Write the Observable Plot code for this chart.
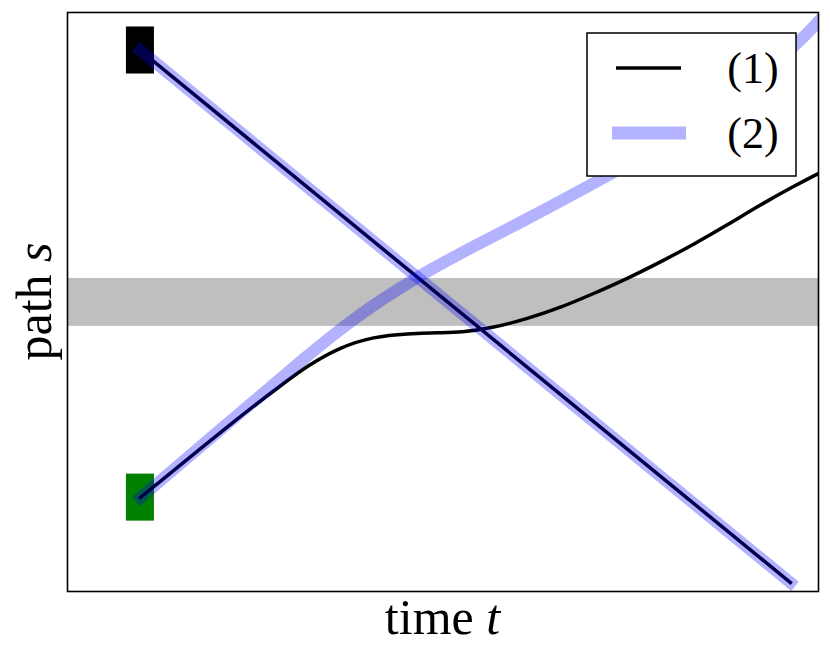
<!DOCTYPE html>
<html><head><meta charset="utf-8">
<script src="https://cdn.jsdelivr.net/npm/d3@7"></script>
<script src="https://cdn.jsdelivr.net/npm/@observablehq/plot@0.6"></script>
<style>body{margin:0;background:#fff}</style>
</head><body><div id="chart"></div>
<script>
// ---- data (arbitrary units, no ticks in the original) ----
const seriesNames = ["(1)", "(2)"];
const xLabel = ["time ", "t"];
const yLabel = ["path ", "s"];

// curve of series (1)
const curve1T = [0, 1.385, 1.980, 2.313, 2.770, 3.227, 3.698, 4.155, 4.432, 4.889, 5.359, 5.816, 6.273, 6.744, 7.201, 7.658, 8.129, 8.586, 9.043, 9.389];
const curve1S = [0, 1.83, 2.55, 2.95, 3.37, 3.60, 3.67, 3.69, 3.69, 3.80, 4.00, 4.25, 4.56, 4.90, 5.27, 5.66, 6.10, 6.55, 6.96, 7.25];
// curve of series (2)
const curve2T = [0, 1.385, 2.313, 2.770, 3.227, 3.698, 4.155, 4.612, 5.082, 6.273, 7.063, 7.755, 8.448, 9.098, 9.555];
const curve2S = [0, 1.90, 3.18, 3.77, 4.31, 4.80, 5.22, 5.62, 6.00, 7.02, 7.74, 8.48, 9.28, 10.13, 10.94];
// straight path shared by both series
const diagT = [0, 9];
const diagS = [10, -1.9];
// horizontal band
const bandS = [3.83, 4.90];
// start / end markers
const markerT = [0, 0];
const markerS = [10, 0];
const markerColor = ["black", "green"];

const xDomain = [-1.01, 9.39];
const yDomain = [-2.1, 10.85];

// ---- build tables ----
const zip = (ts, ss) => ts.map((t, i) => ({t, s: ss[i]}));
const c1 = zip(curve1T, curve1S);
const c2 = zip(curve2T, curve2S);
const diag = zip(diagT, diagS);
const markers = markerT.map((t, i) => ({t, s: markerS[i], c: markerColor[i]}));
const band = [{y1: bandS[0], y2: bandS[1]}];
const mHalfW = 0.194, mHalfH = 0.526;

const W = 830, H = 660, mL = 67, mR = 12, mT = 12, mB = 69;

const chart = Plot.plot({
  width: W, height: H,
  marginLeft: mL, marginRight: mR, marginTop: mT, marginBottom: mB,
  style: {background: "white"},
  x: {domain: xDomain, axis: null},
  y: {domain: yDomain, axis: null},
  marks: [
    Plot.rect(band, {x1: () => xDomain[0], x2: () => xDomain[1], y1: "y1", y2: "y2", fill: "gray", fillOpacity: 0.5}),
    Plot.rect(markers, {x1: d => d.t - mHalfW, x2: d => d.t + mHalfW, y1: d => d.s - mHalfH, y2: d => d.s + mHalfH, fill: "c"}),
    Plot.line(c1, {x: "t", y: "s", stroke: "black", strokeWidth: 3.5, strokeLinecap: "square", curve: "basis", clip: true}),
    Plot.line(diag, {x: "t", y: "s", stroke: "black", strokeWidth: 3.5, strokeLinecap: "square", clip: true}),
    Plot.line(diag, {x: "t", y: "s", stroke: "blue", strokeOpacity: 0.3, strokeWidth: 12, strokeLinecap: "square", clip: true}),
    Plot.line(c2, {x: "t", y: "s", stroke: "blue", strokeOpacity: 0.3, strokeWidth: 12, strokeLinecap: "square", curve: "basis", clip: true}),
    Plot.frame({stroke: "black", strokeWidth: 1.6})
  ]
});
document.getElementById("chart").appendChild(chart);

const svg = d3.select(chart);
const font = "'Liberation Serif', 'DejaVu Serif', serif";

// axis labels
const xl = svg.append("text")
  .attr("x", mL + (W - mL - mR) / 2).attr("y", 634)
  .attr("text-anchor", "middle").attr("font-family", font).attr("font-size", 50).attr("fill", "black");
xl.append("tspan").text(xLabel[0]);
xl.append("tspan").attr("font-style", "italic").text(xLabel[1]);

const yl = svg.append("text")
  .attr("transform", `translate(51,${mT + (H - mT - mB) / 2}) rotate(-90)`)
  .attr("text-anchor", "middle").attr("font-family", font).attr("font-size", 50).attr("fill", "black");
yl.append("tspan").text(yLabel[0]);
yl.append("tspan").attr("font-style", "italic").text(yLabel[1]);

// legend
const lg = svg.append("g");
const lx = 587, ly = 33, lw = 209, lh = 143;
lg.append("rect").attr("x", lx).attr("y", ly).attr("width", lw).attr("height", lh)
  .attr("fill", "white").attr("stroke", "black").attr("stroke-width", 1.5);
const legendStyles = [
  {stroke: "black", opacity: 1, width: 3.5, x1: 616, x2: 681},
  {stroke: "blue", opacity: 0.3, width: 13, x1: 612, x2: 686}
];
seriesNames.forEach((name, i) => {
  const cy = ly + 35 + i * 65;
  const st = legendStyles[i];
  lg.append("line").attr("x1", st.x1).attr("x2", st.x2).attr("y1", cy).attr("y2", cy)
    .attr("stroke", st.stroke).attr("stroke-opacity", st.opacity).attr("stroke-width", st.width);
  lg.append("text").attr("x", 753).attr("y", cy + 15).attr("text-anchor", "middle")
    .attr("font-family", font).attr("font-size", 44).attr("fill", "black").text(name);
});
</script>
</body></html>
